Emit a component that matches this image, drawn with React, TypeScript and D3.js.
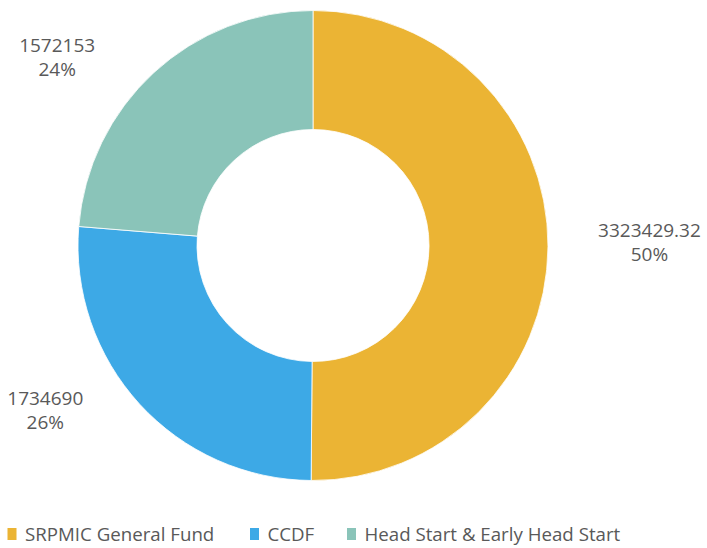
import React from "react";
import * as d3 from "d3";

const categories = ["SRPMIC General Fund", "CCDF", "Head Start & Early Head Start"];
const values = [3323429.32, 1734690, 1572153];
const valueLabels = ["3323429.32", "1734690", "1572153"];
const colors = ["#EBB434", "#3DA9E6", "#8AC4B9"];

const W = 707;
const H = 548;
const cx = 313;
const cy = 245.5;
const R = 235;
const r = 116;
const FS = 19;
const LFS = 18.7;

function estWidth(s: string) {
  let w = 0;
  for (const ch of s) {
    if (ch === ".") w += 0.27 * FS;
    else if (ch === "%") w += 0.82 * FS;
    else w += 0.572 * FS;
  }
  return w;
}

export default function App() {
  const total = d3.sum(values);
  const pie = d3.pie<number>().sort(null).value((d) => d);
  const arcs = pie(values);
  const arc = d3.arc<d3.PieArcDatum<number>>().innerRadius(r).outerRadius(R);
  const font = "'Open Sans', 'Noto Sans', sans-serif";

  const legendX = [7.5, 250, 347];

  return (
    <svg
      width={W}
      height={H}
      style={{ position: "absolute", left: 0, top: 0, background: "#fff" }}
      fontFamily={font}
    >
      <g transform={`translate(${cx},${cy})`}>
        {arcs.map((a, i) => (
          <path key={i} d={arc(a) || ""} fill={colors[i]} stroke="#fff" strokeWidth={0.8} />
        ))}
        {arcs.map((a, i) => {
          const mid = (a.startAngle + a.endAngle) / 2;
          const dy0 = -Math.cos(mid) * 250;
          const side = Math.sin(mid) >= 0 ? 1 : -1;
          const inner = side * Math.sqrt(285 * 285 - dy0 * dy0);
          const label = valueLabels[i];
          const pct = `${Math.round((values[i] / total) * 100)}%`;
          const w = Math.max(estWidth(label), estWidth(pct));
          const x = inner + side * (w / 2);
          const y = dy0 - 4;
          return (
            <g key={i}>
              <text x={x} y={y} dy="-0.28em" textAnchor="middle" fontSize={FS} fill="#595959">
                {label}
              </text>
              <text x={x} y={y} dy="0.98em" textAnchor="middle" fontSize={FS} fill="#595959">
                {pct}
              </text>
            </g>
          );
        })}
      </g>
      <g>
        {categories.map((c, i) => (
          <g key={c} transform={`translate(${legendX[i]},534)`}>
            <rect x={0} y={-6} width={9} height={12} fill={colors[i]} />
            <text x={17.5} y={0} dy="0.35em" fontSize={LFS} fill="#595959">
              {c}
            </text>
          </g>
        ))}
      </g>
    </svg>
  );
}
